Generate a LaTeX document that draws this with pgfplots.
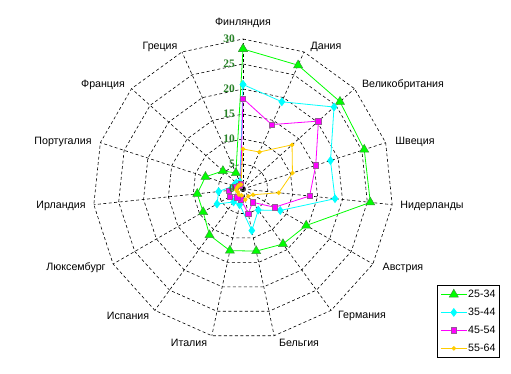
\documentclass[border=0pt]{standalone}
\usepackage{pgfplots}
\pgfplotsset{compat=1.18}
\usepgfplotslibrary{polar}
\usepackage{pgfplotstable}
\usepackage{fontspec}
\setmainfont{Liberation Sans}
\newfontfamily\numfont{Liberation Serif}
\definecolor{cgreen}{RGB}{0,255,0}
\definecolor{cgreenedge}{RGB}{60,150,60}
\definecolor{ccyan}{RGB}{0,255,255}
\definecolor{cmag}{RGB}{255,0,255}
\definecolor{cmagedge}{RGB}{150,90,150}
\definecolor{cyel}{RGB}{255,204,0}
\definecolor{numgreen}{RGB}{40,130,40}

% angle (deg, counter-clockwise from east), values for the four age groups
\pgfplotstableread{
a   g     c     m     y
90  28.0  20.9  18.1  8.0
66  27.1  19.1  14.1  8.1
42  26.1  24.5  20.3  13.2
18  25.5  18.4  15.3  10.4
354 25.6  18.5  13.4  7.2
330 14.6  8.6   7.3   2.3
306 13.6  5.2   3.3   1.8
282 12.7  8.5   5.0   2.2
258 12.6  3.2   2.1   1.3
234 11.4  3.2   2.0   1.4
210 9.2   6.0   3.0   1.2
186 9.2   4.9   2.9   1.4
162 7.9   2.0   1.6   1.2
138 5.4   1.8   1.0   1.1
114 3.5   1.5   1.2   1.0
90  28.0  20.9  18.1  8.0
}\radar

\begin{document}
\begin{tikzpicture}[font=\fontsize{10.7}{12}\selectfont]
\begin{polaraxis}[
  at={(243bp,185bp)}, anchor=center,
  width=300bp, height=300bp, scale only axis,
  xmin=0, xmax=360, ymin=0, ymax=30,
  hide axis, clip=false,
  legend style={at={(1.1467,0.18)}, anchor=north west, draw=black, line width=0.8bp,
    font=\fontsize{10.7}{12}\selectfont, row sep=6bp, inner xsep=3bp, inner ysep=3bp,
    nodes={inner sep=1bp, text height=8bp, text depth=2bp}},
  legend cell align=left,
  legend image code/.code={\draw[mark repeat=2,mark phase=2,#1] plot coordinates {(0bp,0bp) (13bp,0bp) (26bp,0bp)};},
]
% grid rings
\pgfplotsinvokeforeach{5,10,15,20,25,30}{
  \addplot[forget plot, black, line width=0.6bp, dash pattern=on 3bp off 2.5bp, no marks] table[x=a, y expr=#1] {\radar};
}
% spokes
\pgfplotsinvokeforeach{90,66,42,18,354,330,306,282,258,234,210,186,162,138,114}{
  \addplot[forget plot, black, line width=0.6bp, dash pattern=on 3bp off 2.5bp, no marks] coordinates {(#1,0) (#1,30)};
}
\addplot[cgreen, line width=0.8bp, mark=triangle*, mark size=5.2bp,
  mark options={fill=cgreen, draw=cgreenedge, line width=0.5bp}] table[x=a, y=g] {\radar};
\addplot[ccyan, line width=0.8bp, mark=diamond*, mark size=3.8bp,
  mark options={fill=ccyan, draw=ccyan}] table[x=a, y=c] {\radar};
\addplot[cmag, line width=0.8bp, mark=square*, mark size=2.7bp,
  mark options={fill=cmag, draw=cmagedge, line width=0.5bp}] table[x=a, y=m] {\radar};
\addplot[cyel, line width=0.8bp, mark=*, mark size=1.8bp,
  mark options={fill=cyel, draw=cyel}] table[x=a, y=y] {\radar};
\legend{25-34,35-44,45-54,55-64}
\end{polaraxis}
% radial tick labels
\foreach \r in {0,5,10,15,20,25,30}{
  \node[anchor=east, inner sep=0pt, text=numgreen, font=\numfont\bfseries\fontsize{11.5}{12}\selectfont]
    at (235bp,{185bp+5bp*\r}) {\r};
}
% category labels
\node at (243bp,351bp) {Финляндия};
\node at (326bp,327bp) {Дания};
\node at (403bp,289bp) {Великобритания};
\node at (415bp,232bp) {Швеция};
\node at (432bp,168bp) {Нидерланды};
\node at (403bp,106bp) {Австрия};
\node at (362bp,58bp) {Германия};
\node at (299bp,31bp) {Бельгия};
\node at (189bp,31bp) {Италия};
\node at (128bp,58bp) {Испания};
\node at (76bp,106bp) {Люксембург};
\node at (61bp,168bp) {Ирландия};
\node at (63bp,232bp) {Португалия};
\node at (103bp,289bp) {Франция};
\node at (160bp,327bp) {Греция};
\pgfresetboundingbox
\useasboundingbox (0,0) rectangle (511bp,374bp);
\end{tikzpicture}
\end{document}
